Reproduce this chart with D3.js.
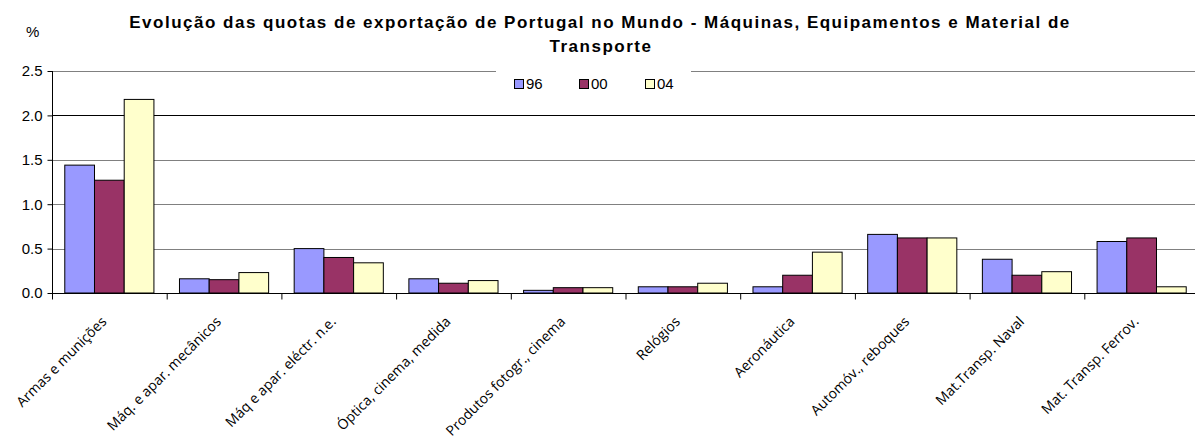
<!DOCTYPE html>
<html>
<head>
<meta charset="utf-8">
<script src="https://cdn.jsdelivr.net/npm/d3@7"></script>
<style>
  body { margin: 0; background: #fff; }
  svg { display: block; font-family: "Liberation Sans", Arial, sans-serif; }
</style>
</head>
<body>
<div id="chart"></div>
<script>
const categories = [
  "Armas e munições",
  "Máq. e apar. mecânicos",
  "Máq e apar. eléctr. n.e.",
  "Óptica, cinema, medida",
  "Produtos fotogr., cinema",
  "Relógios",
  "Aeronáutica",
  "Automóv., reboques",
  "Mat.Transp. Naval",
  "Mat. Transp. Ferrov."
];
const seriesNames = ["96", "00", "04"];
const values96 = [1.44, 0.16, 0.50, 0.16, 0.03, 0.07, 0.07, 0.66, 0.38, 0.58];
const values00 = [1.27, 0.15, 0.40, 0.11, 0.06, 0.07, 0.20, 0.62, 0.20, 0.62];
const values04 = [2.18, 0.23, 0.34, 0.14, 0.06, 0.11, 0.46, 0.62, 0.24, 0.07];
const yTicks = [0, 0.5, 1.0, 1.5, 2.0, 2.5];
const colors = ["#9999FF", "#993366", "#FFFFCC"];

const width = 1195, height = 440;
const margin = { top: 71, right: -4, bottom: 147, left: 52 };

const svg = d3.select("#chart").append("svg")
  .attr("width", width).attr("height", height);

const x = d3.scaleBand()
  .domain(categories)
  .range([margin.left, width - margin.right])
  .paddingInner(0).paddingOuter(0);

const xs = d3.scaleBand()
  .domain(seriesNames)
  .range([0, x.bandwidth()])
  .paddingInner(0)
  .paddingOuter(0.43);

const y = d3.scaleLinear()
  .domain([0, 2.5])
  .range([height - margin.bottom, margin.top]);

// gridlines
svg.append("g")
  .selectAll("line")
  .data(yTicks.filter(d => d > 0))
  .join("line")
  .attr("x1", margin.left).attr("x2", width)
  .attr("y1", d => Math.round(y(d)) + 0.5).attr("y2", d => Math.round(y(d)) + 0.5)
  .attr("stroke", d => d === 2.0 ? "#000" : "#808080")
  .attr("stroke-width", 1);

// legend box, sits on top of the 2.5 gridline
const legend = svg.append("g");
legend.append("rect")
  .attr("x", 496).attr("y", 62).attr("width", 195).attr("height", 36)
  .attr("fill", "#fff");
const legX = [514, 579, 645];
seriesNames.forEach((s, i) => {
  legend.append("rect")
    .attr("x", legX[i] + 0.5).attr("y", 79.5).attr("width", 9).attr("height", 9)
    .attr("fill", colors[i]).attr("stroke", "#000");
  legend.append("text")
    .attr("x", legX[i] + 12).attr("y", 89)
    .attr("font-size", 15)
    .text(s);
});

// bars
const table = categories.map((c, i) => ({
  cat: c,
  vals: [values96[i], values00[i], values04[i]]
}));

svg.append("g")
  .selectAll("g")
  .data(table)
  .join("g")
  .attr("transform", d => `translate(${x(d.cat)},0)`)
  .selectAll("rect")
  .data(d => d.vals.map((v, i) => ({ key: seriesNames[i], v, i })))
  .join("rect")
  .attr("x", d => xs(d.key))
  .attr("width", xs.bandwidth())
  .attr("y", d => y(d.v))
  .attr("height", d => y(0) - y(d.v))
  .attr("fill", d => colors[d.i])
  .attr("stroke", "#000")
  .attr("stroke-width", 1);

// y axis
const yAxis = svg.append("g")
  .attr("transform", `translate(${margin.left + 0.5},0)`)
  .call(d3.axisLeft(y).tickValues(yTicks).tickFormat(d3.format(".1f")).tickSize(5).tickPadding(5));
yAxis.select(".domain").attr("stroke", "#000").attr("d", `M0,${y(2.5)}V${y(0) + 6}`);
yAxis.selectAll("text").attr("font-size", 15).attr("font-family", "Liberation Sans, Arial, sans-serif").attr("fill", "#000");

// x axis
const xAxis = svg.append("g")
  .attr("transform", `translate(0,${Math.round(y(0)) + 0.5})`);
xAxis.append("line")
  .attr("x1", margin.left).attr("x2", width)
  .attr("stroke", "#000");
xAxis.selectAll(".tick")
  .data(categories.concat([null]))
  .join("line")
  .attr("class", "tick")
  .attr("x1", (d, i) => margin.left + i * x.step() + 0.5)
  .attr("x2", (d, i) => margin.left + i * x.step() + 0.5)
  .attr("y1", 0).attr("y2", 6)
  .attr("stroke", "#000");

xAxis.selectAll("text")
  .data(categories)
  .join("text")
  .attr("transform", d => `translate(${x(d) + x.bandwidth() / 2 - 2},29) rotate(-45)`)
  .attr("text-anchor", "end")
  .attr("font-family", "'Comic Sans MS', 'Open Sans', sans-serif")
  .attr("font-size", 14)
  .text(d => d);

// title
const title = svg.append("text")
  .attr("text-anchor", "middle")
  .attr("font-weight", "bold")
  .attr("font-size", 17)
  .attr("letter-spacing", 1.5);
title.append("tspan").attr("x", 600).attr("y", 28)
  .text("Evolução das quotas de exportação de Portugal no Mundo - Máquinas, Equipamentos e Material de");
title.append("tspan").attr("x", 601).attr("y", 52)
  .text("Transporte");

svg.append("text")
  .attr("x", 26).attr("y", 37)
  .attr("font-size", 15)
  .text("%");
</script>
</body>
</html>
